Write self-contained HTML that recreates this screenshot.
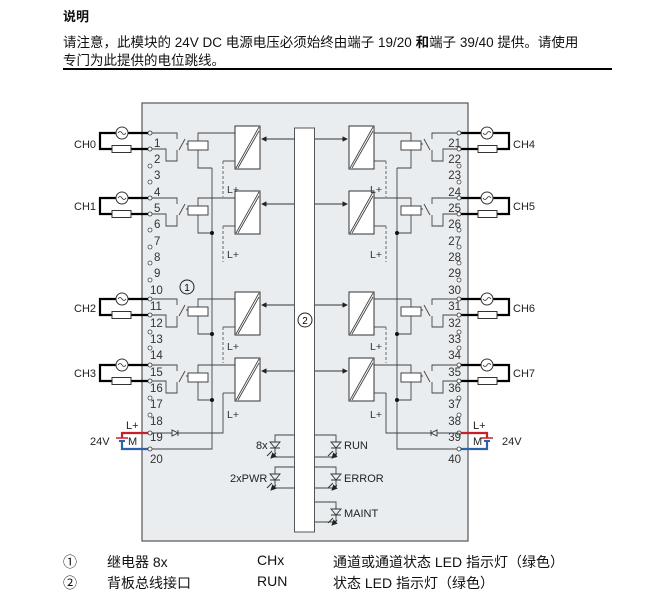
<!DOCTYPE html>
<html><head><meta charset="utf-8">
<style>
html,body{margin:0;padding:0;background:#fff;}
body{width:668px;height:578px;overflow:hidden;position:relative;font-family:"Liberation Sans","Noto Sans CJK SC",sans-serif;}
.t{position:absolute;white-space:nowrap;color:#111;}
</style></head><body>
<div class="t" style="left:63px;top:6px;font-size:13px;font-weight:bold;">说明</div>
<div class="t" style="left:63px;top:31px;font-size:13.5px;">请注意，此模块的 24V DC 电源电压必须始终由端子 19/20 <b>和</b>端子 39/40 提供。请使用</div>
<div class="t" style="left:63px;top:49px;font-size:13.5px;">专门为此提供的电位跳线。</div>
<div style="position:absolute;left:63px;top:68px;width:549px;height:2px;background:#000;"></div>

<svg width="668" height="578" style="position:absolute;left:0;top:0" xmlns="http://www.w3.org/2000/svg" font-family="Liberation Sans, sans-serif">
<defs>
<marker id="ar" markerWidth="6" markerHeight="6" refX="5" refY="3" orient="auto"><path d="M0,0 L6,3 L0,6z" fill="#222"/></marker>
<g id="ch">
 <path d="M150,133 H100 V149 H150" fill="none" stroke="#000" stroke-width="2.2"/>
 <circle cx="122" cy="133" r="6" fill="#fff" stroke="#333"/>
 <path d="M118,133 q2,-3 4,0 t4,0" fill="none" stroke="#333" stroke-width="0.8"/>
 <rect x="112" y="145.5" width="19" height="7" fill="#fff" stroke="#333"/>
 <circle cx="150" cy="133" r="2" fill="#fff" stroke="#333" stroke-width="0.8"/>
 <circle cx="150" cy="149" r="2" fill="#fff" stroke="#333" stroke-width="0.8"/>
 <path d="M152,133 H177 V139 M179,150 L185,139 M186,144 H188 M152,149 H166 V161 H177 V150" fill="none" stroke="#444" stroke-width="0.9"/>
 <rect x="188" y="141" width="20" height="9" fill="#fff" stroke="#444"/>
 <path d="M198,141 V133 H235 M198,150 V168 H212" fill="none" stroke="#444" stroke-width="0.9"/>
 <rect x="235" y="126" width="25" height="43" fill="#fff" stroke="#333"/>
 <path d="M294,139 H262" stroke="#333" stroke-width="0.9" marker-end="url(#ar)"/>
 <path d="M235,161 H223" stroke="#444" stroke-width="0.9"/>
</g>
<g id="diag"><path d="M1,42 L24,1 M3,42 L24,5" stroke="#444" stroke-width="0.9"/></g>
<g id="led">
 <path d="M-5,0 H5 L0,6 Z M-5,6 H5 M0,-3 V0 M0,6 V9" fill="none" stroke="#333" stroke-width="0.9"/>
 <path d="M-3,9 L-8,14 M1,11 L-4,16" stroke="#333" stroke-width="1" marker-end="url(#ar)"/>
</g>
</defs>

<rect x="142" y="103" width="326" height="438" fill="#e9edf0" stroke="#555" stroke-width="1.2"/>
<rect x="294.5" y="128" width="20" height="404" fill="#fff" stroke="#555"/>

<g id="left">
 <use href="#ch"/>
 <use href="#ch" transform="translate(0,65)"/>
 <use href="#ch" transform="translate(0,166)"/>
 <use href="#ch" transform="translate(0,232)"/>
 <path d="M223,161 V197 M223,226 V262 M223,327 V363" stroke="#666" stroke-width="1" stroke-dasharray="3,2" fill="none"/>
 <path d="M223,393 V433 H152 M212,168 V449 H152" fill="none" stroke="#444" stroke-width="0.9"/>
 <circle cx="212" cy="233" r="2" fill="#111"/>
 <circle cx="212" cy="334" r="2" fill="#111"/>
 <circle cx="212" cy="400" r="2" fill="#111"/>
 <path d="M172,430 V436 L178,433 Z M178,430 V436" fill="#e9edf0" stroke="#333" stroke-width="0.9"/>
 <path d="M150,433 H122 V438" fill="none" stroke="#c8202a" stroke-width="2.2"/>
 <path d="M150,449 H122 V442" fill="none" stroke="#2d62a8" stroke-width="2.2"/>
 <path d="M116,438 H128" stroke="#c8202a" stroke-width="1.5"/>
 <path d="M119,441 H125" stroke="#2d62a8" stroke-width="2"/>
 <circle cx="150" cy="433" r="2" fill="#fff" stroke="#333" stroke-width="0.8"/>
 <circle cx="150" cy="449" r="2" fill="#fff" stroke="#333" stroke-width="0.8"/>
</g>
<use href="#left" transform="translate(609,0) scale(-1,1)"/>

<use href="#diag" transform="translate(235,126)"/>
<use href="#diag" transform="translate(235,191)"/>
<use href="#diag" transform="translate(235,292)"/>
<use href="#diag" transform="translate(235,358)"/>
<use href="#diag" transform="translate(349,126)"/>
<use href="#diag" transform="translate(349,191)"/>
<use href="#diag" transform="translate(349,292)"/>
<use href="#diag" transform="translate(349,358)"/>

<g fill="#fff" stroke="#444" stroke-width="0.8">
 <circle cx="150" cy="166" r="2"/><circle cx="150" cy="182" r="2"/><circle cx="150" cy="230" r="2"/><circle cx="150" cy="247" r="2"/><circle cx="150" cy="263" r="2"/><circle cx="150" cy="280" r="2"/><circle cx="150" cy="332" r="2"/><circle cx="150" cy="348" r="2"/><circle cx="150" cy="398" r="2"/><circle cx="150" cy="415" r="2"/>
 <circle cx="459" cy="166" r="2"/><circle cx="459" cy="182" r="2"/><circle cx="459" cy="230" r="2"/><circle cx="459" cy="247" r="2"/><circle cx="459" cy="263" r="2"/><circle cx="459" cy="280" r="2"/><circle cx="459" cy="332" r="2"/><circle cx="459" cy="348" r="2"/><circle cx="459" cy="398" r="2"/><circle cx="459" cy="415" r="2"/>
</g>

<g font-size="11.5" fill="#333">
 <text x="154" y="147">1</text><text x="154" y="163">2</text><text x="154" y="179">3</text><text x="154" y="196">4</text><text x="154" y="212">5</text><text x="154" y="228">6</text><text x="154" y="245">7</text><text x="154" y="261">8</text><text x="154" y="277">9</text>
 <text x="150" y="294">10</text><text x="150" y="310">11</text><text x="150" y="327">12</text><text x="150" y="343">13</text><text x="150" y="359">14</text><text x="150" y="376">15</text><text x="150" y="392">16</text><text x="150" y="408">17</text><text x="150" y="425">18</text><text x="150" y="441">19</text><text x="150" y="463">20</text>
</g>
<g font-size="11.5" fill="#333" text-anchor="end">
 <text x="461" y="147">21</text><text x="461" y="163">22</text><text x="461" y="179">23</text><text x="461" y="196">24</text><text x="461" y="212">25</text><text x="461" y="228">26</text><text x="461" y="245">27</text><text x="461" y="261">28</text><text x="461" y="277">29</text>
 <text x="461" y="294">30</text><text x="461" y="310">31</text><text x="461" y="327">32</text><text x="461" y="343">33</text><text x="461" y="359">34</text><text x="461" y="376">35</text><text x="461" y="392">36</text><text x="461" y="408">37</text><text x="461" y="425">38</text><text x="461" y="441">39</text><text x="461" y="463">40</text>
</g>

<g font-size="11" fill="#222">
 <text x="74" y="148">CH0</text><text x="74" y="210">CH1</text><text x="74" y="312">CH2</text><text x="74" y="377">CH3</text>
 <text x="513" y="148">CH4</text><text x="513" y="210">CH5</text><text x="513" y="312">CH6</text><text x="513" y="377">CH7</text>
 <text x="90" y="445">24V</text><text x="126" y="429">L+</text><text x="128" y="445">M</text>
 <text x="502" y="445">24V</text><text x="473" y="429">L+</text><text x="473" y="445">M</text>
</g>
<g font-size="10.5" fill="#333">
 <text x="227" y="258">L+</text><text x="227" y="193">L+</text><text x="227" y="350">L+</text><text x="227" y="418">L+</text>
 <text x="370" y="193">L+</text><text x="370" y="258">L+</text><text x="370" y="350">L+</text><text x="370" y="418">L+</text>
</g>
<circle cx="187" cy="287" r="7" fill="none" stroke="#222"/><text x="187" y="291" font-size="10" text-anchor="middle">1</text>
<circle cx="305" cy="320" r="7" fill="#fff" stroke="#222"/><text x="305" y="324" font-size="10" text-anchor="middle">2</text>

<g fill="none" stroke="#444" stroke-width="0.9">
 <path d="M294,435 H275 V439 M275,451 V457 H294"/>
 <path d="M294,467 H275 V471 M275,483 V488 H294"/>
 <path d="M315,435 H336 V439 M336,451 V457 H315"/>
 <path d="M315,467 H336 V471 M336,483 V488 H315"/>
 <path d="M315,502 H336 V506 M336,518 V522 H315"/>
</g>
<use href="#led" transform="translate(275,442)"/>
<use href="#led" transform="translate(275,474)"/>
<use href="#led" transform="translate(336,442)"/>
<use href="#led" transform="translate(336,474)"/>
<use href="#led" transform="translate(336,509)"/>
<g font-size="11" fill="#222">
 <text x="256" y="449">8x</text><text x="230" y="482">2xPWR</text>
 <text x="344" y="449">RUN</text><text x="344" y="482">ERROR</text><text x="344" y="517">MAINT</text>
</g>
</svg>

<div class="t" style="left:63px;top:552px;font-size:14px;">①</div>
<div class="t" style="left:107px;top:552px;font-size:14px;">继电器 8x</div>
<div class="t" style="left:257px;top:552px;font-size:14px;">CHx</div>
<div class="t" style="left:333px;top:552px;font-size:14px;">通道或通道状态 LED 指示灯（绿色）</div>
<div class="t" style="left:63px;top:573px;font-size:14px;">②</div>
<div class="t" style="left:107px;top:573px;font-size:14px;">背板总线接口</div>
<div class="t" style="left:257px;top:573px;font-size:14px;">RUN</div>
<div class="t" style="left:333px;top:573px;font-size:14px;">状态 LED 指示灯（绿色）</div>
</body></html>
